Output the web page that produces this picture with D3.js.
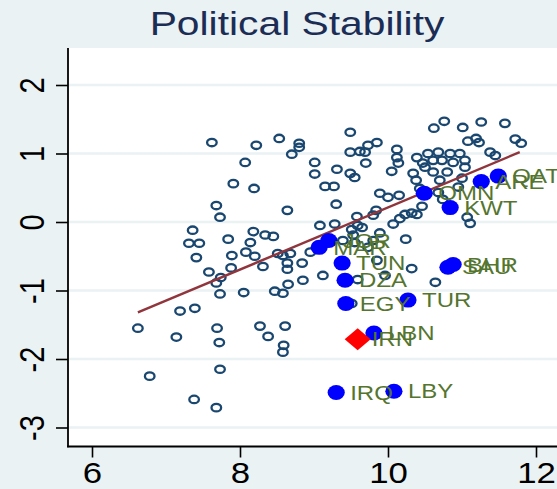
<!DOCTYPE html>
<html>
<head>
<meta charset="utf-8">
<script src="https://cdn.jsdelivr.net/npm/d3@7"></script>
<style>
  html, body { margin: 0; padding: 0; background: #eaf2f3; }
  svg { display: block; }
</style>
</head>
<body>
<div id="chart"></div>
<script>
// other countries (hollow circles): log GDP per capita vs political stability
var otherX = [10.62,10.76,11.01,11.26,11.58,11.08,11.19,11.23,11.72,11.80,9.49,8.53,8.80,8.80,8.22,7.62,9.85,9.73,10.12,
  11.38,11.45,8.70,9.49,9.62,9.69,10.12,10.14,8.07,9.01,9.01,9.31,9.49,9.55,9.70,10.05,10.34,10.39,10.38,7.91,
  10.54,10.68,10.84,10.97,10.47,10.61,10.73,10.88,11.04,11.04,10.50,10.61,10.80,10.70,11.00,
  10.43,10.68,10.95,10.46,10.74,11.07,11.11,8.19,9.15,9.27,8.64,9.30,9.89,10.00,10.15,7.68,7.73,
  9.08,9.28,9.58,9.59,9.84,9.80,10.16,10.23,10.32,10.39,10.07,
  8.18,8.14,8.34,8.45,8.08,8.20,8.51,8.58,8.68,8.95,9.51,9.65,9.53,9.73,9.89,10.24,9.55,9.39,
  7.36,7.31,7.45,7.84,7.41,7.89,9.80,
  7.58,7.88,7.74,7.68,7.73,8.05,8.31,8.64,8.64,8.84,8.65,8.85,9.12,8.47,8.58,10.32,10.64,9.85,9.96,9.59,9.51,
  7.19,7.39,6.62,7.14,7.69,7.72,8.27,8.38,8.61,8.59,8.58,7.73,6.78,7.38,7.68];
var otherY = [1.37,1.47,1.38,1.46,1.44,1.18,1.22,1.16,1.21,1.15,1.31,1.22,1.15,1.09,1.12,1.16,1.16,1.12,1.06,
  1.02,0.97,0.99,1.02,1.03,1.02,0.94,0.86,0.87,0.87,0.70,0.77,0.71,0.65,0.86,0.74,0.71,0.94,0.61,0.56,
  1.00,1.02,1.00,1.00,0.86,0.90,0.90,0.87,0.90,0.80,0.80,0.73,0.73,0.61,0.64,
  0.49,0.43,0.51,0.23,0.33,0.07,-0.02,0.49,0.52,0.52,0.17,0.26,0.42,0.36,0.39,0.24,0.07,
  -0.05,-0.03,0.08,-0.05,0.17,0.10,0.05,0.11,0.13,0.11,-0.03,
  -0.14,-0.30,-0.19,-0.21,-0.44,-0.50,-0.46,-0.49,-0.46,-0.44,-0.11,-0.08,-0.19,-0.37,-0.16,-0.25,-0.30,-0.27,
  -0.12,-0.31,-0.31,-0.25,-0.52,-0.49,-0.27,
  -0.73,-0.67,-0.81,-0.89,-1.05,-1.03,-0.65,-0.60,-0.69,-0.60,-0.91,-0.85,-0.78,-1.01,-1.04,-0.68,-0.88,-0.56,-0.78,-0.84,-1.19,
  -1.30,-1.26,-1.55,-1.68,-1.55,-1.76,-1.52,-1.67,-1.52,-1.80,-1.90,-2.15,-2.25,-2.59,-2.71];

// highlighted countries
var menaCodes = ["QAT","ARE","OMN","KWT","JOR","MAR","TUN","DZA","EGY","TUR","BHR","SAU","LBN","IRQ","LBY"];
var menaX = [11.49,11.26,10.49,10.84,9.20,9.07,9.38,9.42,9.43,10.27,10.88,10.81,9.81,9.30,10.08];
var menaY = [0.67,0.59,0.42,0.21,-0.27,-0.37,-0.60,-0.85,-1.19,-1.14,-0.62,-0.66,-1.62,-2.49,-2.47];

var focusCode = ["IRN"];
var focusX = [9.59];
var focusY = [-1.71];

// fitted line end points
var fitX = [6.62, 11.78];
var fitY = [-1.32, 1.02];

var xTicks = [6, 8, 10, 12];
var yTicks = [-3, -2, -1, 0, 1, 2];
var titleText = "Political Stability";

var width = 557, height = 489;
var stretch = 1.2;
var font = "'Liberation Sans', Arial, sans-serif";

var svg = d3.select("#chart").append("svg")
    .attr("width", width)
    .attr("height", height);

svg.append("rect")
    .attr("width", width).attr("height", height)
    .attr("fill", "#eaf2f3");

var plotLeft = 68, plotTop = 48, plotBottom = 446.5;

var x = d3.scaleLinear().domain([6, 12]).range([92, 536]);
var y = d3.scaleLinear().domain([-3, 2]).range([427.5, 85]);

svg.append("rect")
    .attr("x", plotLeft).attr("y", plotTop)
    .attr("width", width - plotLeft + 10).attr("height", plotBottom - plotTop)
    .attr("fill", "#ffffff");

// grid
svg.append("g").selectAll("line")
    .data(yTicks)
    .enter().append("line")
    .attr("x1", plotLeft).attr("x2", width)
    .attr("y1", d => y(d)).attr("y2", d => y(d))
    .attr("stroke", "#eaf2f3")
    .attr("stroke-width", 2.5);

// hollow circles
svg.append("g").selectAll("ellipse")
    .data(d3.range(otherX.length))
    .enter().append("ellipse")
    .attr("cx", i => x(otherX[i]))
    .attr("cy", i => y(otherY[i]))
    .attr("rx", 4.8).attr("ry", 3.7)
    .attr("fill", "none")
    .attr("stroke", "#1a476f")
    .attr("stroke-width", 2.3);

// fitted line
svg.append("line")
    .attr("x1", x(fitX[0])).attr("y1", y(fitY[0]))
    .attr("x2", x(fitX[1])).attr("y2", y(fitY[1]))
    .attr("stroke", "#90353b")
    .attr("stroke-width", 2.4);

// blue dots
svg.append("g").selectAll("ellipse")
    .data(d3.range(menaX.length))
    .enter().append("ellipse")
    .attr("cx", i => x(menaX[i]))
    .attr("cy", i => y(menaY[i]))
    .attr("rx", 8.6).attr("ry", 7.5)
    .attr("fill", "#0000ff");

// red diamond
svg.append("g").selectAll("path")
    .data(d3.range(focusX.length))
    .enter().append("path")
    .attr("d", i => {
        var cx = x(focusX[i]), cy = y(focusY[i]);
        return "M" + (cx - 13) + "," + cy + "L" + cx + "," + (cy - 11) +
               "L" + (cx + 13) + "," + cy + "L" + cx + "," + (cy + 11) + "Z";
    })
    .attr("fill", "#ff0000");

// labels
var labels = menaCodes.map((c, i) => ({t: c, x: menaX[i], y: menaY[i]}))
    .concat(focusCode.map((c, i) => ({t: c, x: focusX[i], y: focusY[i]})));

svg.append("g").selectAll("text")
    .data(labels)
    .enter().append("text")
    .attr("transform", d => "translate(" + (x(d.x) + 14) + "," + (y(d.y) + 7.2) + ") scale(" + stretch + ",1)")
    .attr("font-family", font)
    .attr("font-size", 20)
    .attr("fill", "#55752f")
    .text(d => d.t);

// y axis
var yAxis = svg.append("g")
    .attr("transform", "translate(" + plotLeft + ",0)")
    .call(d3.axisLeft(y).tickValues(yTicks).tickSize(12).tickSizeOuter(0).tickFormat(d3.format("d")));
yAxis.select(".domain").remove();
yAxis.selectAll("line").attr("stroke", "#000").attr("stroke-width", 1.6);
yAxis.selectAll("text")
    .attr("x", null).attr("dy", null)
    .attr("text-anchor", "middle")
    .attr("transform", "translate(-24,0) scale(" + stretch + ",1) rotate(-90)")
    .attr("font-family", font)
    .attr("font-size", 29)
    .attr("fill", "#000")
    .text(d => d < 0 ? "-" + Math.abs(d) : d);

svg.append("line")
    .attr("x1", plotLeft).attr("x2", plotLeft)
    .attr("y1", plotTop).attr("y2", plotBottom + 0.8)
    .attr("stroke", "#000").attr("stroke-width", 1.8);

// x axis
var xAxis = svg.append("g")
    .attr("transform", "translate(0," + plotBottom + ")")
    .call(d3.axisBottom(x).tickValues(xTicks).tickSize(11).tickSizeOuter(0).tickFormat(d3.format("d")));
xAxis.select(".domain").remove();
xAxis.selectAll("line").attr("stroke", "#000").attr("stroke-width", 1.6);
xAxis.selectAll("text")
    .attr("y", 36.5).attr("dy", null)
    .attr("transform", "scale(" + stretch + ",1)")
    .attr("x", 0)
    .attr("font-family", font)
    .attr("font-size", 29)
    .attr("fill", "#000");

svg.append("line")
    .attr("x1", plotLeft - 0.9).attr("x2", width)
    .attr("y1", plotBottom).attr("y2", plotBottom)
    .attr("stroke", "#000").attr("stroke-width", 1.8);

// title
svg.append("text")
    .attr("transform", "translate(297,35) scale(" + stretch + ",1)")
    .attr("text-anchor", "middle")
    .attr("font-family", font)
    .attr("font-size", 34)
    .attr("fill", "#1c2d55")
    .text(titleText);
</script>
</body>
</html>
